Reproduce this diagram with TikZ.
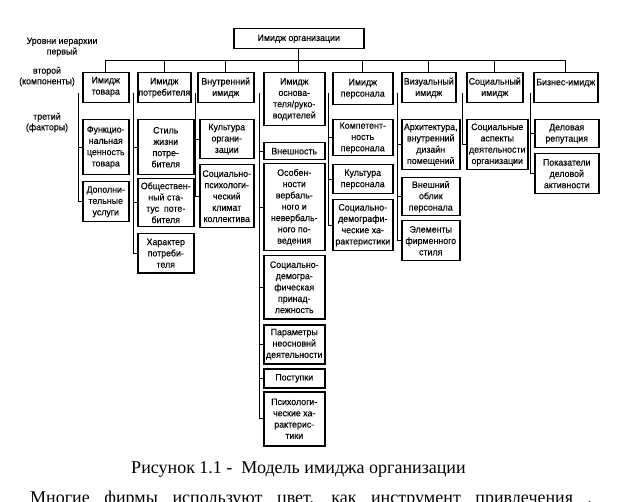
\documentclass[tikz,border=0pt]{standalone}
\usepackage{fontspec}
\setmainfont{Liberation Serif}
\newfontfamily\diafont[FakeStretch=0.95,FakeBold=0.2]{Liberation Sans}

\begin{document}
\begin{tikzpicture}[
  x=1pt, y=-1pt,
  box/.style={draw, line width=1.5pt, anchor=north west, align=center,
    inner sep=0.5pt, font=\diafont\fontsize{9.3}{11.3}\selectfont},
  lbl/.style={align=center, inner sep=0pt,
    font=\diafont\fontsize{9.3}{10.6}\selectfont},
  ln/.style={line width=0.9pt}
]
\useasboundingbox (0,0) rectangle (628,502);

% levels of hierarchy
\node[lbl] (lv1) at (62,47) {Уровни иерархии\\первый};
\node[lbl] (lv2) at (47,76.5) {второй\\(компоненты)};
\node[lbl] (lv3) at (47,122.5) {третий\\(факторы)};

% first level
\node[box, minimum width=130, minimum height=20] (root) at (233,28) {Имидж организации};

% second level (components)
\node[box, minimum width=46, minimum height=30] (k1) at (82,72) {\mbox{}\\[-7pt]Имидж\\товара};
\node[box, minimum width=53, minimum height=30] (k2) at (137,72) {Имидж\\потребителя};
\node[box, minimum width=56, minimum height=30] (k3) at (197,72) {Внутренний\\имидж};
\node[box, minimum width=61, minimum height=53] (k4) at (263,72) {Имидж\\основа-\\теля/руко-\\водителей};
\node[box, minimum width=60, minimum height=32] (k5) at (332,72) {Имидж\\персонала};
\node[box, minimum width=54, minimum height=30] (k6) at (401,72) {Визуальный\\имидж};
\node[box, minimum width=56, minimum height=30] (k7) at (466,72) {Социальный\\имидж};
\node[box, minimum width=64, minimum height=30] (k8) at (533,72) {Бизнес-имидж\\ \mbox{}};

% third level (factors)
\node[box, minimum width=46, minimum height=55] (f11) at (82,119) {Функцио-\\нальная\\ценность\\товара};
\node[box, minimum width=46, minimum height=40] (f12) at (82,181) {Дополни-\\тельные\\услуги};

\node[box, minimum width=56, minimum height=55] (f21) at (137,119) {Стиль\\жизни\\потре-\\бителя};
\node[box, minimum width=56, minimum height=48] (f22) at (137,178) {Обществен-\\ный ста-\\тус\ \ поте-\\бителя};
\node[box, minimum width=56, minimum height=39] (f23) at (137,233) {Характер\\потреби-\\теля};

\node[box, minimum width=54, minimum height=39] (f31) at (199,119) {Культура\\органи-\\зации};
\node[box, minimum width=54, minimum height=63] (f32) at (199,164) {Социально-\\психологи-\\ческий\\климат\\коллектива};

\node[box, minimum width=61, minimum height=17] (f41) at (263,142) {Внешность};
\node[box, minimum width=61, minimum height=87] (f42) at (263,163) {Особен-\\ности\\вербаль-\\ного и\\невербаль-\\ного по-\\ведения};
\node[box, minimum width=61, minimum height=63] (f43) at (263,255) {Социально-\\демогра-\\фическая\\принад-\\лежность};
\node[box, minimum width=61, minimum height=39] (f44) at (263,324) {Параметры\\неосновнй\\деятельности};
\node[box, minimum width=61, minimum height=19] (f45) at (263,368) {Поступки};
\node[box, minimum width=61, minimum height=54] (f46) at (263,391) {Психологи-\\ческие ха-\\рактерис-\\тики};

\node[box, minimum width=60, minimum height=36] (f51) at (332,119) {Компетент-\\ность\\персонала};
\node[box, minimum width=60, minimum height=29] (f52) at (332,164) {Культура\\персонала};
\node[box, minimum width=60, minimum height=51] (f53) at (332,199) {Социально-\\демографи-\\ческие ха-\\рактеристики};

\node[box, minimum width=58, minimum height=50] (f61) at (401,119) {Архитектура,\\внутренний\\дизайн\\помещений};
\node[box, minimum width=58, minimum height=38] (f62) at (401,177) {Внешний\\облик\\персонала};
\node[box, minimum width=58, minimum height=40] (f63) at (401,220) {Элементы\\фирменного\\стиля};

\node[box, minimum width=61, minimum height=50] (f71) at (466,119) {Социальные\\аспекты\\деятельности\\организации};

\node[box, minimum width=64, minimum height=28] (f81) at (534,119) {Деловая\\репутация};
\node[box, minimum width=64, minimum height=40] (f82) at (534,153) {Показатели\\деловой\\активности};

% tree from the top box to the components
\coordinate (bus) at (0,60);
\draw[ln] (root.south) -- (root.south |- k4.north);
\draw[ln] (k1.north) |- (k8.north |- bus) -- (k8.north);
\foreach \n in {k2,k3,k5,k6,k7}
  \draw[ln] (\n.north) -- (\n.north |- bus);

% brackets from components to factors
\foreach \a/\b in {f11/f12, f21/f23, f31/f32, f41/f46, f51/f53, f61/f63, f71/f71, f81/f82}
  \draw[ln] ([xshift=-3.5pt]\a.west |- 0,93) |- (\b.west);
\foreach \n in {f11,f21,f22,f31,f41,f42,f43,f44,f45,f51,f52,f61,f62,f81}
  \draw[ln] (\n.west) -- ++(-3.5,0);

% caption and text below
\node[font=\fontsize{18}{20}\selectfont, inner sep=0pt] (cap) at (298.5,469) {Рисунок 1.1 -\ \ Модель имиджа организации};
\node[font=\fontsize{18}{20}\selectfont, inner sep=0pt, anchor=base west] (txt) at (30,503)
  {\makebox[562pt][s]{Многие фирмы используют цвет, как инструмент привлечения ,}};

\end{tikzpicture}
\end{document}
